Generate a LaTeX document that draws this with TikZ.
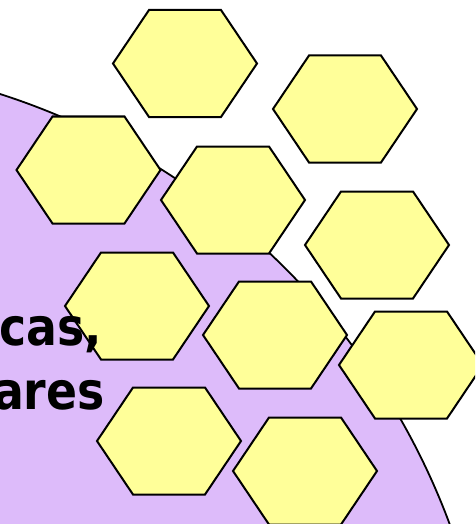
\documentclass[tikz,border=0pt]{standalone}
\usepackage{fontspec}
\setmainfont{DejaVu Sans}
\definecolor{cellY}{HTML}{FFFF99}
\definecolor{blobP}{HTML}{DDBBFA}
\begin{document}
\begin{tikzpicture}[x=1pt,y=-1pt,
  hexcell/.style={draw=black,fill=cellY,line width=2pt,line join=miter},
  blob/.style={draw=black,fill=blobP,line width=1.8pt},
  word/.style={anchor=base east,inner sep=0pt,font=\fontsize{52}{60}\selectfont\bfseries}]
  \useasboundingbox (0,0) rectangle (475,524);
  \clip (0,0) rectangle (475,524);
  \fill[white] (0,0) rectangle (475,524);
  % big lavender disc, only its upper left part shows
  \draw[blob] (-218,772) circle[radius=712];
  % honeycomb cells
  \foreach \cx/\cy [count=\i] in {185/63.5,345/109,88.5/170,233/200,377/245,
      137/306,275/335,411/365,169/441,305/471}{
    \coordinate (c\i) at (\cx,\cy);
    \draw[hexcell] (\cx-72,\cy) -- (\cx-36,\cy-53.5) -- (\cx+36,\cy-53.5)
      -- (\cx+72,\cy) -- (\cx+36,\cy+53.5) -- (\cx-36,\cy+53.5) -- cycle;
  }
  \node[word] (w1) at (102,345) {\scalebox{0.88}[1]{cas,}};
  \node[word] (w2) at (105,409) {\scalebox{0.88}[1]{ares}};
\end{tikzpicture}
\end{document}
